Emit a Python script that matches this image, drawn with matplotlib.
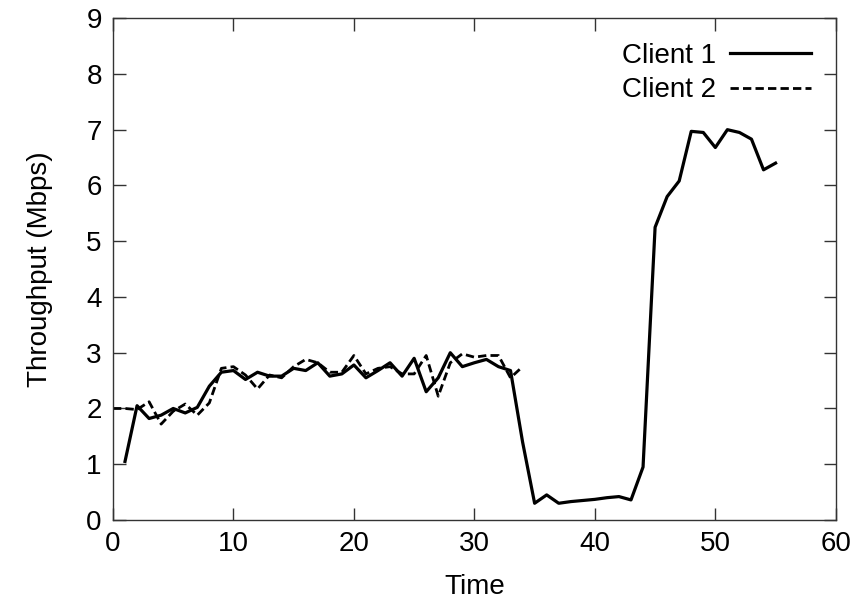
#!/usr/bin/env python3
"""Throughput of two clients over time (gnuplot-style line chart)."""

import matplotlib

matplotlib.use("Agg")
import matplotlib.pyplot as plt

# Client 1: t = 1..55
time_c1 = list(range(1, 56))
client1 = [
    1.05, 2.05, 1.82, 1.88, 2.00, 1.92, 2.02, 2.40, 2.65, 2.68,
    2.52, 2.65, 2.58, 2.58, 2.72, 2.68, 2.82, 2.58, 2.62, 2.78,
    2.55, 2.68, 2.82, 2.58, 2.90, 2.30, 2.55, 3.00, 2.75, 2.82,
    2.88, 2.75, 2.68, 1.40, 0.30, 0.45, 0.30, 0.33, 0.35, 0.37,
    0.40, 0.42, 0.36, 0.95, 5.25, 5.80, 6.08, 6.97, 6.95, 6.68,
    7.00, 6.95, 6.83, 6.28, 6.40,
]

# Client 2: t = 0..34
time_c2 = list(range(0, 35))
client2 = [
    2.00, 2.00, 1.98, 2.12, 1.72, 1.95, 2.08, 1.88, 2.10, 2.72,
    2.75, 2.60, 2.35, 2.60, 2.55, 2.75, 2.88, 2.82, 2.65, 2.65,
    2.95, 2.62, 2.72, 2.75, 2.62, 2.62, 2.95, 2.22, 2.82, 2.98,
    2.92, 2.95, 2.95, 2.55, 2.75,
]

x_ticks = [0, 10, 20, 30, 40, 50, 60]
y_ticks = list(range(0, 10))


def main() -> None:
    plt.rcParams["font.family"] = ["Liberation Sans", "DejaVu Sans"]
    fig = plt.figure(figsize=(8.59, 6.05), dpi=100)
    ax = fig.add_axes([0.1315, 0.1405, 0.8415, 0.8295])

    ax.plot(time_c1, client1, color="black", lw=2.3, label="Client 1")
    ax.plot(time_c2, client2, color="black", lw=2.0, ls=(0, (3, 1.5)),
            label="Client 2")

    ax.set_xlim(0, 60)
    ax.set_ylim(0, 9)
    ax.set_xticks(x_ticks)
    ax.set_yticks(y_ticks)
    ax.tick_params(direction="in", length=9, width=1, top=True, right=True,
                   labelsize=20, pad=8, color="#333333")
    for side in ax.spines.values():
        side.set_linewidth(1)
        side.set_color("#333333")
    ax.set_xlabel("Time", fontsize=20, labelpad=12)
    ax.set_ylabel("Throughput (Mbps)", fontsize=20, labelpad=24)

    ax.legend(loc="upper right", frameon=False, markerfirst=False,
              fontsize=20, handlelength=2.9, handletextpad=0.5,
              labelspacing=0.3, borderaxespad=0.5, borderpad=0.4)

    fig.savefig("out.png", dpi=100)
    plt.close(fig)


if __name__ == "__main__":
    main()
